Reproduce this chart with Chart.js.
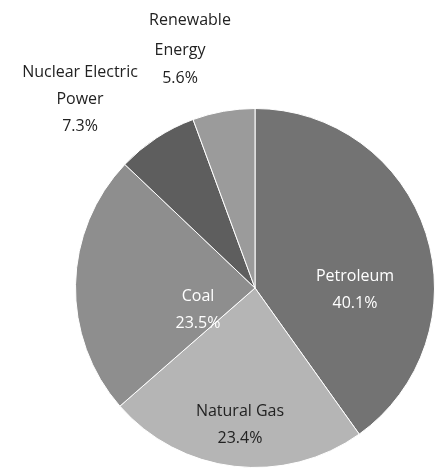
<!DOCTYPE html>
<html><head><meta charset="utf-8">
<script src="https://cdn.jsdelivr.net/npm/chart.js@4/dist/chart.umd.min.js"></script>
<style>html,body{margin:0;background:#fff}#c{display:block}</style>
</head><body>
<div style="width:439px;height:476px"><canvas id="c"></canvas></div>
<script>
const categories = ['Petroleum', 'Natural Gas', 'Coal', 'Nuclear Electric Power', 'Renewable Energy'];
const shares = [40.1, 23.4, 23.5, 7.3, 5.6];
const labelLines = [['Petroleum'], ['Natural Gas'], ['Coal'], ['Nuclear Electric', 'Power'], ['Renewable', 'Energy']];
const colors = ['#737373', '#b5b5b5', '#8e8e8e', '#5e5e5e', '#9b9b9b'];
const textColors = ['#fff', '#222', '#fff', '#222', '#222'];
// label anchor (centre of the first line), outside labels placed by hand
const labelPos = [[355, 276], [240, 411], [198, 296], [80, 72], [190, 20]];
const labelPosOut = {4: [[190, 20], [180, 50], [180, 78]]};

const labelPlugin = {
  id: 'labels',
  afterDatasetsDraw(chart) {
    const ctx = chart.ctx;
    ctx.save();
    ctx.font = '16px "Open Sans", sans-serif';
    ctx.textAlign = 'center';
    ctx.textBaseline = 'middle';
    shares.forEach((v, i) => {
      const lines = labelLines[i].concat([v.toFixed(1) + '%']);
      ctx.fillStyle = textColors[i];
      lines.forEach((t, j) => {
        let x = labelPos[i][0], y = labelPos[i][1] + j * 27;
        if (labelPosOut[i]) { x = labelPosOut[i][j][0]; y = labelPosOut[i][j][1]; }
        ctx.fillText(t, x, y);
      });
    });
    ctx.restore();
  }
};

new Chart(document.getElementById('c'), {
  type: 'pie',
  data: { labels: categories, datasets: [{ data: shares, backgroundColor: colors, borderColor: '#fff', borderWidth: 1 }] },
  options: {
    responsive: true, maintainAspectRatio: false, animation: false,
    layout: { padding: { left: 75, right: 4, top: 108, bottom: 8 } },
    plugins: { legend: { display: false }, tooltip: { enabled: false } }
  },
  plugins: [labelPlugin]
});
</script>
</body></html>
